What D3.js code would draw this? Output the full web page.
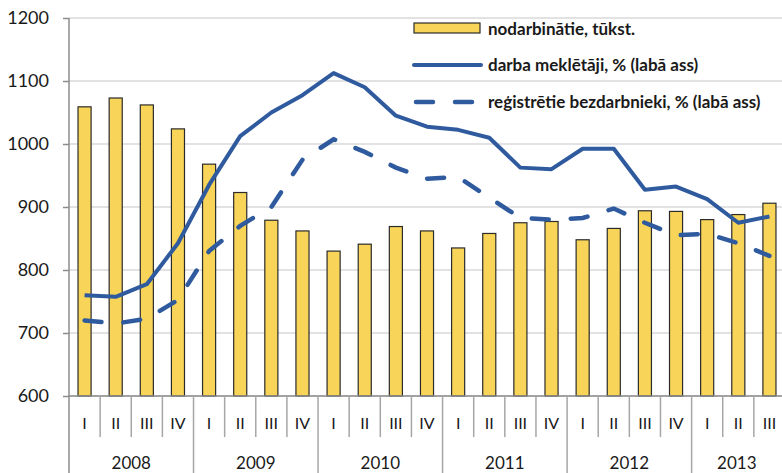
<!DOCTYPE html>
<html>
<head>
<meta charset="utf-8">
<script src="https://cdn.jsdelivr.net/npm/d3@7"></script>
<style>
  body { margin: 0; background: #fff; }
  text { font-family: Lato, "Open Sans", sans-serif; fill: #1a1a1a; }
  .legend text { font-weight: bold; font-size: 17px; }
</style>
</head>
<body>
<div id="chart"></div>
<script>
const years = ["2008", "2009", "2010", "2011", "2012", "2013"];
const quarterNames = ["I", "II", "III", "IV"];
const quarterCount = [4, 4, 4, 4, 4, 3];

// nodarbinātie, tūkst.
const employed = [1059, 1073, 1062, 1024, 968, 923, 879, 862, 830, 841, 869, 862,
  835, 858, 875, 877, 848, 866, 894, 893, 880, 888, 906];
// darba meklētāji, % (labā ass)
const jobSeekers = [6.4, 6.3, 7.1, 9.7, 13.4, 16.5, 18.0, 19.1, 20.5, 19.6, 17.8, 17.1,
  16.9, 16.4, 14.5, 14.4, 15.7, 15.7, 13.1, 13.3, 12.5, 11.0, 11.4];
// reģistrētie bezdarbnieki, % (labā ass)
const registered = [4.8, 4.6, 4.9, 6.1, 9.2, 10.8, 12.0, 15.0, 16.3, 15.5, 14.5, 13.8,
  13.9, 12.6, 11.3, 11.2, 11.3, 11.9, 11.0, 10.2, 10.3, 9.7, 8.9];

const leftTicks = [600, 700, 800, 900, 1000, 1100, 1200];

const W = 782, H = 473;
const x0 = 69, x1 = 785, yTop = 18, yBot = 396;

const periods = [];
years.forEach((yr, i) => {
  for (let q = 0; q < quarterCount[i]; q++) periods.push({ year: yr, q: quarterNames[q], key: yr + "-" + q });
});

const svg = d3.select("#chart").append("svg")
  .attr("width", W).attr("height", H);

const x = d3.scaleBand()
  .domain(periods.map(d => d.key))
  .range([x0, x1]);

const y = d3.scaleLinear().domain([600, 1200]).range([yBot, yTop]);
const y2 = d3.scaleLinear().domain([0, 24]).range([yBot, yTop]);

// Grid lines
svg.append("g")
  .selectAll("line")
  .data(leftTicks)
  .join("line")
  .attr("x1", x0).attr("x2", W)
  .attr("y1", d => y(d)).attr("y2", d => y(d))
  .attr("stroke", "#d9d9d9")
  .attr("stroke-width", 1.5);

// Left axis
const yAxis = svg.append("g")
  .attr("transform", `translate(${x0},0)`)
  .call(d3.axisLeft(y).tickValues(leftTicks).tickFormat(d3.format("d")).tickSize(6).tickPadding(14));
yAxis.select(".domain").remove();
yAxis.selectAll("line").attr("stroke", "#8c8c8c").attr("stroke-width", 1.5);
yAxis.selectAll("text").attr("font-size", "18px").attr("font-family", "Lato").attr("fill", "#1a1a1a");

svg.append("line")
  .attr("x1", x0).attr("x2", x0).attr("y1", yTop).attr("y2", H)
  .attr("stroke", "#8c8c8c").attr("stroke-width", 1.5);

// Bars
const barW = x.bandwidth() * 0.42;
svg.append("g")
  .selectAll("rect")
  .data(periods)
  .join("rect")
  .attr("x", d => x(d.key) + (x.bandwidth() - barW) / 2)
  .attr("width", barW)
  .attr("y", (d, i) => y(employed[i]))
  .attr("height", (d, i) => yBot - y(employed[i]))
  .attr("fill", "#f8d558")
  .attr("stroke", "#2b2b2b")
  .attr("stroke-width", 1.2);

// Bottom axis line
svg.append("line")
  .attr("x1", x0).attr("x2", W).attr("y1", yBot).attr("y2", yBot)
  .attr("stroke", "#8c8c8c").attr("stroke-width", 1.5);

// Quarter separators and labels
svg.append("g")
  .selectAll("line")
  .data(periods.slice(1))
  .join("line")
  .attr("x1", d => x(d.key)).attr("x2", d => x(d.key))
  .attr("y1", yBot)
  .attr("y2", d => d.q === "I" ? H : 437)
  .attr("stroke", "#a6a6a6")
  .attr("stroke-width", 1.5);

svg.append("g")
  .selectAll("text")
  .data(periods)
  .join("text")
  .attr("x", d => x(d.key) + x.bandwidth() / 2)
  .attr("y", 429)
  .attr("text-anchor", "middle")
  .attr("font-size", "16px")
  .text(d => d.q);

// Year labels
let start = 0;
const yearPos = years.map((yr, i) => {
  const first = periods[start].key;
  const last = periods[start + quarterCount[i] - 1].key;
  start += quarterCount[i];
  const a = x(first), b = Math.min(x(last) + x.bandwidth(), x1);
  return { yr, mid: i === years.length - 1 ? (a + W) / 2 : (a + b) / 2 };
});

svg.append("g")
  .selectAll("text")
  .data(yearPos)
  .join("text")
  .attr("x", d => d.mid)
  .attr("y", 469)
  .attr("text-anchor", "middle")
  .attr("font-size", "17px")
  .text(d => d.yr);

// Lines
const cx = d => x(d.key) + x.bandwidth() / 2;
const lineGen = vals => d3.line()
  .x(d => cx(d))
  .y((d, i) => y2(vals[i]));

svg.append("path")
  .datum(periods)
  .attr("fill", "none")
  .attr("stroke", "#2f5b9e")
  .attr("stroke-width", 4)
  .attr("stroke-linejoin", "round")
  .attr("d", lineGen(jobSeekers));

svg.append("path")
  .datum(periods)
  .attr("fill", "none")
  .attr("stroke", "#2f5b9e")
  .attr("stroke-width", 4.5)
  .attr("stroke-linecap", "round")
  .attr("stroke-dasharray", "17,22")
  .attr("d", lineGen(registered));

// Legend
const legend = svg.append("g").attr("class", "legend");
legend.append("rect")
  .attr("x", 414).attr("y", 23).attr("width", 66).attr("height", 10)
  .attr("fill", "#f8d558").attr("stroke", "#2b2b2b").attr("stroke-width", 1.2);
legend.append("line")
  .attr("x1", 414).attr("x2", 481).attr("y1", 65).attr("y2", 65)
  .attr("stroke", "#2f5b9e").attr("stroke-width", 4).attr("stroke-linecap", "round");
legend.append("line")
  .attr("x1", 416).attr("x2", 481).attr("y1", 102).attr("y2", 102)
  .attr("stroke", "#2f5b9e").attr("stroke-width", 4.5)
  .attr("stroke-linecap", "round").attr("stroke-dasharray", "17,22");

const legendLabels = ["nodarbinātie, tūkst.", "darba meklētāji, % (labā ass)", "reģistrētie bezdarbnieki, % (labā ass)"];
legend.selectAll("text.lbl")
  .data(legendLabels)
  .join("text")
  .attr("class", "lbl")
  .attr("x", 488)
  .attr("y", (d, i) => [29, 65, 102][i])
  .attr("dy", "0.35em")
  .text(d => d);
</script>
</body>
</html>
